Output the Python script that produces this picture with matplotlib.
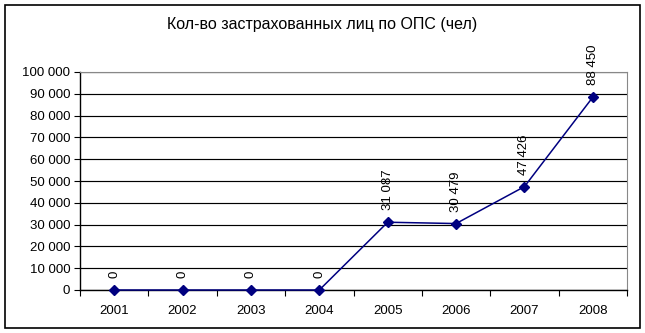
import matplotlib
matplotlib.use("Agg")
import matplotlib.pyplot as plt
from matplotlib.patches import Rectangle
from matplotlib.ticker import FuncFormatter, MultipleLocator

plt.rcParams["font.family"] = ["Liberation Sans", "DejaVu Sans"]

years = ["2001", "2002", "2003", "2004", "2005", "2006", "2007", "2008"]
insured = [0, 0, 0, 0, 31087, 30479, 47426, 88450]
title = "Кол-во застрахованных лиц по ОПС (чел)"


def spaced(v, _pos=None):
    return f"{int(v):,}".replace(",", " ")


W, H = 645, 333
fig = plt.figure(figsize=(W / 100, H / 100), dpi=100)
fig.patches.append(Rectangle((5 / W, 1 - 328 / H), 635 / W, 323 / H,
                             transform=fig.transFigure, fill=False,
                             edgecolor="black", linewidth=1.2))

ax = fig.add_axes([80 / W, 1 - 290 / H, 547 / W, 218 / H])
x = list(range(len(years)))
ax.plot(x, insured, color="#000080", marker="D", markersize=5, linewidth=1.1,
        clip_on=False, zorder=3)
for xi, v in zip(x, insured):
    ax.annotate(spaced(v), (xi, v), xytext=(0, 8.5), textcoords="offset points",
                rotation=90, ha="center", va="bottom", fontsize=9.5)

ax.set_xlim(-0.5, len(years) - 0.5)
ax.set_ylim(0, 100000)
ax.yaxis.set_major_locator(MultipleLocator(10000))
ax.yaxis.set_major_formatter(FuncFormatter(spaced))
ax.set_xticks([i - 0.5 for i in range(len(years) + 1)])
ax.set_xticklabels([])
ax.set_xticks(x, minor=True)
ax.set_xticklabels(years, minor=True)
ax.tick_params(axis="x", which="minor", length=0, pad=10.5, labelsize=9.5)
ax.tick_params(axis="x", which="major", length=4, direction="out")
ax.tick_params(axis="y", length=4, direction="out", labelsize=9.5, pad=3)
ax.grid(axis="y", color="black", linewidth=0.85)
ax.set_axisbelow(True)
for side in ("top", "right"):
    ax.spines[side].set_color("#888888")
ax.spines["left"].set_linewidth(1)
ax.spines["bottom"].set_linewidth(1)

fig.text(0.5, 1 - 25 / H, title, ha="center", va="center", fontsize=11.5)

fig.savefig("out.png", dpi=100)
